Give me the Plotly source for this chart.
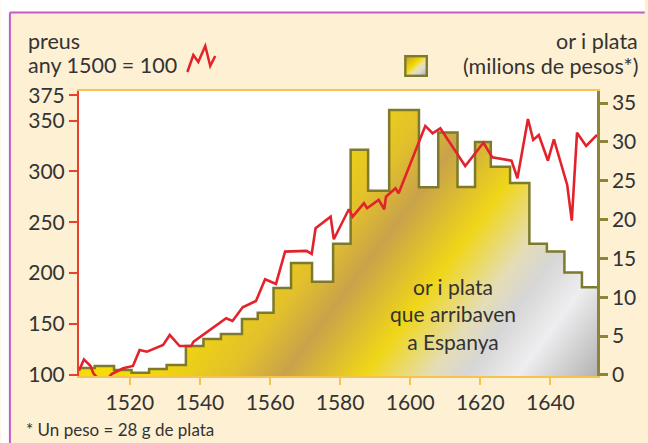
import base64
import plotly.graph_objects as go

# ---------------- data ----------------
price_years = [1505.5, 1506.9, 1508.8, 1509.6, 1511.5, 1513.5, 1514.8, 1518.1, 1520.9,
               1522.8, 1524.9, 1529.5, 1531.4, 1534.2, 1537.5, 1538.2, 1547.5, 1549.3,
               1552.2, 1556.0, 1558.6, 1561.7, 1564.3, 1570.4, 1571.9, 1573.0, 1577.3,
               1578.2, 1582.5, 1583.6, 1586.8, 1587.7, 1591.0, 1592.6, 1593.1, 1595.8,
               1596.7, 1604.3, 1606.4, 1608.6, 1615.7, 1620.9, 1623.4, 1628.9, 1630.6,
               1633.6, 1635.1, 1636.7, 1639.3, 1641.0, 1644.8, 1646.1, 1647.6, 1650.2,
               1653.3]
price_index = [104, 115, 108.5, 101.4, 94, 95, 100.7, 106.3, 108.6,
               124.3, 122.6, 129.2, 139.1, 128.2, 128.2, 132.5, 155.5, 152.9,
               166.3, 172.5, 193.9, 189.3, 221.1, 221.8, 218.8, 244.1, 255.5,
               233.3, 262.8, 255.5, 268.7, 263.8, 272.0, 262.8, 275.2, 283.5,
               278.5, 344.8, 337.6, 342.5, 305.4, 328.3, 314.0, 310.6, 293.3,
               351.7, 331.0, 335.9, 310.6, 331.7, 286.7, 251.6, 338.2, 325.1,
               335.9]

treasure_edges = [1505.5, 1510, 1515.5, 1520.5, 1525.5, 1530.5, 1536, 1541, 1546, 1552,
                  1556.5, 1561, 1566, 1572, 1578, 1583, 1588, 1594, 1602.5, 1608,
                  1613.5, 1618.5, 1623, 1628.5, 1634, 1639, 1644, 1649, 1653.3]
treasure_millions = [0.9, 1.16, 0.64, 0.3, 0.77, 1.29, 3.73, 4.63, 5.28, 7.2,
                     8.0, 11.2, 14.4, 12.0, 16.9, 29.0, 23.7, 34.1, 24.15, 31.2,
                     24.2, 30.0, 26.8, 24.7, 16.9, 15.9, 13.2, 11.3]

x_ticks = [1520, 1540, 1560, 1580, 1600, 1620, 1640]
left_ticks = [100, 150, 200, 250, 300, 350, 375]
right_ticks = [0, 5, 10, 15, 20, 25, 30, 35]

# ---------------- geometry helpers ----------------
W, H = 648, 443
ML, MR, MT, MB = 79, 48, 91, 67
PW = W - ML - MR
PH = H - MT - MB


def px(xp):
    return (xp - ML) / PW


def py(yp):
    return (H - MB - yp) / PH


FONT = "Lato, 'Open Sans', sans-serif"
TXT = "#333333"
RED = "#E3232C"
OLIVE = "#7E7A2C"
CREAM = "#FEF0D3"
TICK_SIZE = 21

# ---------------- gradient images (SVG) ----------------
L = 588.0
ux, uy = 0.8, 0.6
grad_svg = f'''<svg xmlns="http://www.w3.org/2000/svg" width="{PW}" height="{PH}" viewBox="0 0 {PW} {PH}" preserveAspectRatio="none">
<defs><linearGradient id="g" gradientUnits="userSpaceOnUse" x1="0" y1="0" x2="{ux*L:.1f}" y2="{uy*L:.1f}">
<stop offset="0" stop-color="#F8E200"/>
<stop offset="0.37" stop-color="#F4DB06"/>
<stop offset="0.50" stop-color="#E2C02C"/>
<stop offset="0.57" stop-color="#C9A24A"/>
<stop offset="0.63" stop-color="#DEBF2E"/>
<stop offset="0.68" stop-color="#F0D618"/>
<stop offset="0.77" stop-color="#E4DDB6"/>
<stop offset="0.82" stop-color="#D6D6D6"/>
<stop offset="0.89" stop-color="#EEEEF0"/>
<stop offset="1" stop-color="#B3B3B3"/>
</linearGradient></defs>
<rect x="0" y="0" width="{PW}" height="{PH}" fill="url(#g)"/></svg>'''

icon_svg = '''<svg xmlns="http://www.w3.org/2000/svg" width="24" height="22" viewBox="0 0 24 22" preserveAspectRatio="none">
<defs><linearGradient id="h" x1="0" y1="0" x2="1" y2="1">
<stop offset="0" stop-color="#C49A30"/>
<stop offset="0.4" stop-color="#F0D800"/>
<stop offset="0.58" stop-color="#ECE3A0"/>
<stop offset="0.75" stop-color="#D8D8D8"/>
<stop offset="1" stop-color="#A8A8A8"/>
</linearGradient></defs>
<rect x="1.2" y="1.2" width="21.6" height="19.6" fill="url(#h)" stroke="#7E7A2C" stroke-width="2.4"/></svg>'''


def uri(s):
    return "data:image/svg+xml;base64," + base64.b64encode(s.encode()).decode()


# ---------------- traces ----------------
# base axis "y" = treasure (right side); overlay "y2" = price index (left side)
fig = go.Figure()

step_y = treasure_millions + [treasure_millions[-1]]
fig.add_trace(go.Scatter(x=treasure_edges, y=[60] * len(treasure_edges), mode="lines",
                         line=dict(width=0, shape="hv"), yaxis="y",
                         hoverinfo="skip", showlegend=False))
fig.add_trace(go.Scatter(x=treasure_edges, y=step_y, mode="lines",
                         line=dict(color=OLIVE, width=2.5, shape="hv"),
                         fill="tonexty", fillcolor="white", yaxis="y",
                         showlegend=False))
fig.add_trace(go.Scatter(x=price_years, y=price_index, mode="lines",
                         line=dict(color=RED, width=2.6), yaxis="y2",
                         showlegend=False))

# ---------------- layout ----------------
shapes = [
    dict(type="rect", xref="paper", yref="paper", x0=px(0), x1=px(W), y0=py(12), y1=py(0),
         fillcolor="white", line=dict(width=0)),
    dict(type="rect", xref="paper", yref="paper", x0=px(0), x1=px(9), y0=py(H), y1=py(0),
         fillcolor="white", line=dict(width=0)),
    dict(type="line", xref="paper", yref="paper", x0=px(9.5), x1=px(W), y0=py(12.5), y1=py(12.5),
         line=dict(color="#C65BC8", width=2)),
    dict(type="line", xref="paper", yref="paper", x0=px(9.5), x1=px(9.5), y0=py(H), y1=py(12.5),
         line=dict(color="#C65BC8", width=2)),
]
zig = [(188, 72), (194, 55), (199, 62), (206, 46), (211, 66), (216, 56)]
path = "M " + " L ".join(f"{px(a):.5f},{py(b):.5f}" for a, b in zig)
shapes.append(dict(type="path", xref="paper", yref="paper", path=path,
                   line=dict(color=RED, width=2.5)))


def note(text, x, y, xanchor, size, align="left"):
    return dict(text=text, xref="paper", yref="paper", x=px(x), y=py(y),
                xanchor=xanchor, yanchor="middle", showarrow=False, align=align,
                font=dict(family=FONT, size=size, color=TXT))


annotations = [
    note("preus", 26, 41, "left", 21.5),
    note("any 1500 = 100", 26, 65, "left", 21.5),
    note("or i plata", 643, 41, "right", 21.5),
    note("(milions de pesos*)", 643, 66, "right", 21.5),
    note("* Un peso = 28 g de plata", 24, 429, "left", 17),
    note("or i plata<br>que arribaven<br>a Espanya", 455, 314, "center", 21, "center"),
]

images = [
    dict(source=uri(grad_svg), xref="paper", yref="paper", x=0, y=1, sizex=1, sizey=1,
         xanchor="left", yanchor="top", sizing="stretch", layer="below"),
    dict(source=uri(icon_svg), xref="paper", yref="paper", x=px(406), y=py(55),
         sizex=24 / PW, sizey=22 / PH, xanchor="left", yanchor="top",
         sizing="stretch", layer="above"),
]

fig.update_layout(
    width=W, height=H,
    margin=dict(l=ML, r=MR, t=MT, b=MB, pad=0),
    paper_bgcolor=CREAM, plot_bgcolor="white",
    font=dict(family=FONT, size=TICK_SIZE, color=TXT),
    xaxis=dict(range=[1505.5, 1653.3], tickvals=x_ticks, showgrid=False, zeroline=False,
               showline=True, linecolor="#F6C350", linewidth=2, mirror=True,
               ticks="outside", ticklen=7, tickwidth=2, tickcolor="#F6C350",
               tickfont=dict(family=FONT, size=TICK_SIZE, color=TXT)),
    yaxis=dict(range=[-0.13, 36.55], tickvals=right_ticks, side="right",
               showgrid=False, zeroline=False,
               showline=True, linecolor="#8C8436", linewidth=2.5,
               ticks="outside", ticklen=8, tickwidth=2.5, tickcolor="#8C8436",
               tickfont=dict(family=FONT, size=TICK_SIZE, color=TXT)),
    yaxis2=dict(range=[98.7, 379.2], tickvals=left_ticks, overlaying="y", side="left",
                showgrid=False, zeroline=False,
                showline=True, linecolor="#E8412C", linewidth=2,
                ticks="outside", ticklen=8, tickwidth=2, tickcolor="#E8412C",
                tickfont=dict(family=FONT, size=TICK_SIZE, color=TXT)),
    shapes=shapes,
    annotations=annotations,
    images=images,
    showlegend=False,
)

fig.write_html("out.html", config={"displayModeBar": False},
               post_script="document.body.style.margin='0';document.body.style.overflow='hidden';")
